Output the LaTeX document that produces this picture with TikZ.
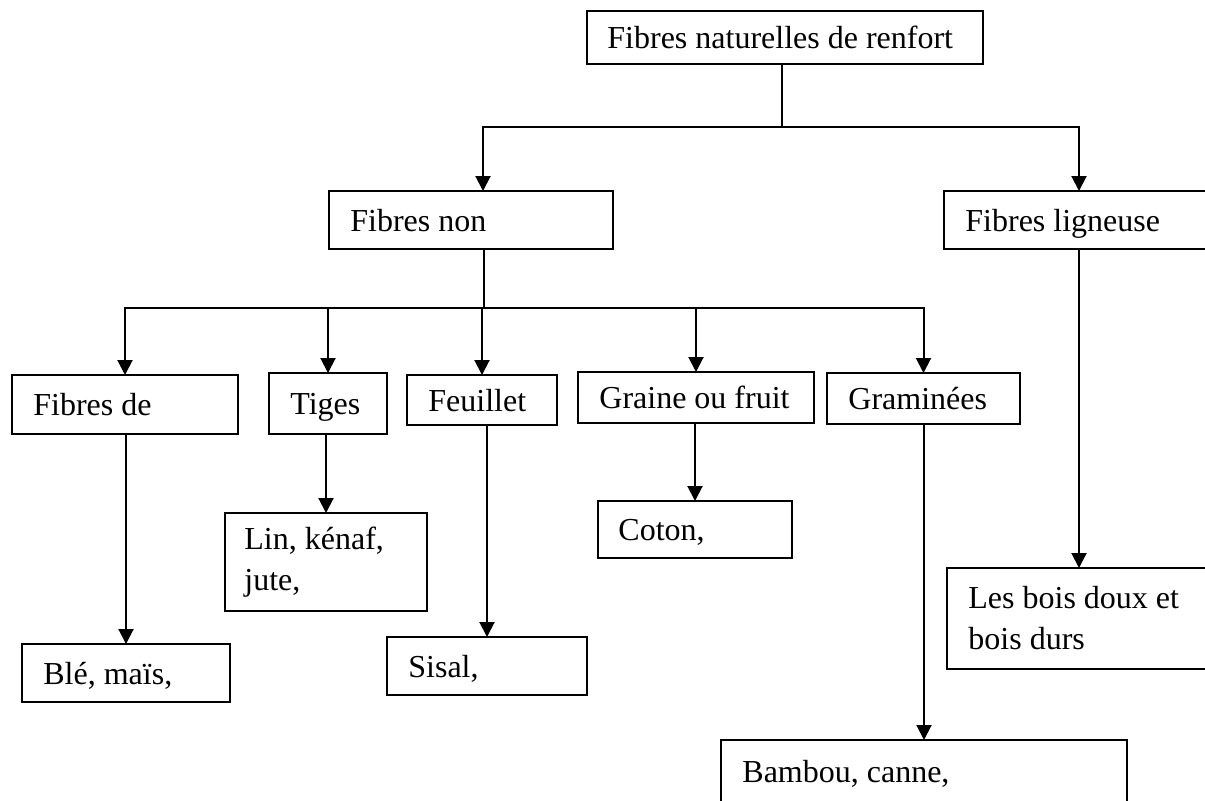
\documentclass[tikz,border=0pt]{standalone}
\usepackage{fontspec}
\setmainfont{Liberation Serif}
\usetikzlibrary{arrows.meta}
\begin{document}
\begin{tikzpicture}[x=0.5pt,y=-0.5pt,
  box/.style={draw,line width=1pt,anchor=north west,inner sep=0pt,outer sep=0pt},
  lbl/.style={anchor=base west,inner sep=0pt,font=\fontsize{16}{20.5}\selectfont},
  lbltwo/.style={anchor=west,inner sep=0pt,align=left,font=\fontsize{16}{20.5}\selectfont},
  conn/.style={line width=1pt,line cap=rect},
  thinconn/.style={line width=0.6pt},
  arr/.style={line width=1pt,-{Triangle[width=7.5pt,length=7.5pt]}}]
\useasboundingbox (0,0) rectangle (1205,800);
\clip (0,0) rectangle (1205,800);
% boxes
\node[box,minimum width=198pt,minimum height=26.5pt] (T) at (587,11) {};
\node[box,minimum width=142pt,minimum height=29pt] (N) at (329,191) {};
\node[box,minimum width=135pt,minimum height=29pt] (L) at (944,191) {};
\node[box,minimum width=113pt,minimum height=29.5pt] (A) at (12,375) {};
\node[box,minimum width=59pt,minimum height=30.5pt] (B) at (269,373) {};
\node[box,minimum width=75pt,minimum height=25pt] (C) at (407,375) {};
\node[box,minimum width=118pt,minimum height=25.5pt] (D) at (578,372) {};
\node[box,minimum width=96.5pt,minimum height=25.5pt] (E) at (827,373) {};
\node[box,minimum width=104pt,minimum height=29pt] (A2) at (22,644) {};
\node[box,minimum width=101pt,minimum height=49pt] (B2) at (225,513) {};
\node[box,minimum width=100pt,minimum height=29pt] (C2) at (387,637) {};
\node[box,minimum width=97pt,minimum height=28.5pt] (D2) at (598,501) {};
\node[box,minimum width=203pt,minimum height=31pt] (E2) at (721,740) {};
\node[box,minimum width=132pt,minimum height=50.5pt] (L2) at (947,568) {};
% texts
\node[lbl] (tT) at ([xshift=10pt,yshift=-5.5pt]T.west) {Fibres naturelles de renfort};
\node[lbl] (tN) at ([xshift=10.5pt,yshift=-5.5pt]N.west) {Fibres non};
\node[lbl] (tL) at ([xshift=10.5pt,yshift=-5.5pt]L.west) {Fibres ligneuse};
\node[lbl] (tA) at ([xshift=10.5pt,yshift=-5.5pt]A.west) {Fibres de};
\node[lbl] (tB) at ([xshift=10.5pt,yshift=-5.5pt]B.west) {Tiges};
\node[lbl] (tC) at ([xshift=10.5pt,yshift=-5.5pt]C.west) {Feuillet};
\node[lbl] (tD) at ([xshift=10.5pt,yshift=-5.5pt]D.west) {Graine ou fruit};
\node[lbl] (tE) at ([xshift=10.5pt,yshift=-5.5pt]E.west) {Graminées};
\node[lbl] (tA2) at ([xshift=10.5pt,yshift=-5.5pt]A2.west) {Blé, maïs,};
\node[lbltwo] (tB2) at ([xshift=9.5pt]B2.west) {Lin, kénaf,\\jute,};
\node[lbl] (tC2) at ([xshift=10.5pt,yshift=-5.5pt]C2.west) {Sisal,};
\node[lbl] (tD2) at ([xshift=10pt,yshift=-5.5pt]D2.west) {Coton,};
\node[lbl] (tE2) at ([xshift=10.5pt,yshift=-5.5pt]E2.west) {Bambou, canne,};
\node[lbltwo] (tL2) at ([xshift=10.5pt]L2.west) {Les bois doux et\\bois durs};
% first level
\coordinate (s1) at (782,127);
\coordinate (jl) at (483,127);
\coordinate (jr) at (1079,127);
\draw[thinconn] (T.south -| s1) -- (s1);
\draw[conn] (jl) -- (jr);
\draw[arr] (jl) -- (N.north -| jl);
\draw[arr] (jr) -- (L.north -| jr);
% second level
\coordinate (s2) at (484,308);
\draw[thinconn] (N.south -| s2) -- (s2);
\draw[conn] (A.north |- s2) -- (E.north |- s2);
\foreach \c in {A,B,C,D,E} {\draw[arr] (\c.north |- s2) -- (\c.north);}
% third level
\draw[arr] (A.south -| A2.north) -- (A2.north);
\draw[arr] (B.south -| B2.north) -- (B2.north);
\draw[arr] (C.south -| C2.north) -- (C2.north);
\draw[arr] (D.south -| D2.north) -- (D2.north);
\draw[arr] (E.south -| E2.north) -- (E2.north);
\draw[arr] (L.south -| L2.north) -- (L2.north);
\end{tikzpicture}
\end{document}
